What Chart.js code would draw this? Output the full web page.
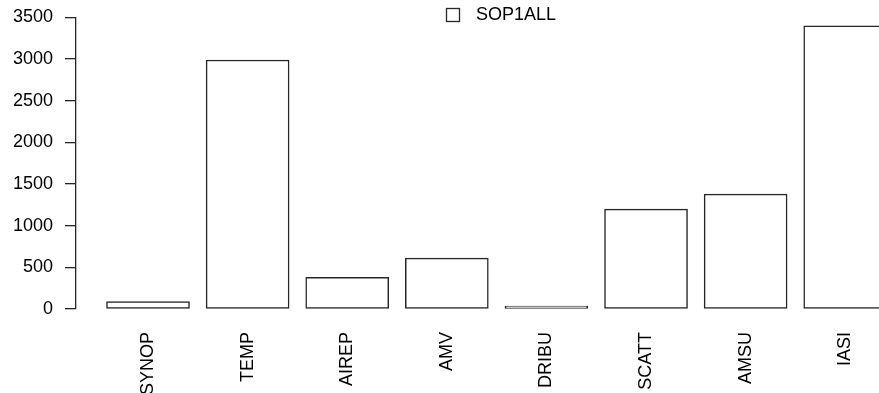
<!DOCTYPE html>
<html>
<head>
<meta charset="utf-8">
<script src="https://cdn.jsdelivr.net/npm/chart.js@4/dist/chart.umd.min.js"></script>
<style>
  html, body { margin: 0; padding: 0; background: #fff; overflow: hidden; }
  canvas { display: block; }
</style>
</head>
<body>
<canvas id="c" width="879" height="393"></canvas>
<script>
// Observation types and their counts for the SOP1ALL experiment
const categories = ['SYNOP', 'TEMP', 'AIREP', 'AMV', 'DRIBU', 'SCATT', 'AMSU', 'IASI'];
const sop1all = [90, 2990, 380, 610, 8, 1200, 1380, 3400];
const seriesName = 'SOP1ALL';
const yTicks = [0, 500, 1000, 1500, 2000, 2500, 3000, 3500];

const FONT = { family: "'Liberation Sans', Arial, Helvetica, sans-serif", size: 18 };
const INK = '#000000';
const LINE = '#262626';

// Small legend: an open square followed by the series name
const boxLegend = {
  id: 'boxLegend',
  afterDraw(chart) {
    const ds = chart.data.datasets[0];
    const ctx = chart.ctx;
    ctx.save();
    ctx.lineWidth = 1.3;
    ctx.strokeStyle = ds.borderColor;
    ctx.fillStyle = ds.backgroundColor;
    ctx.fillRect(446.5, 8.5, 13, 13);
    ctx.strokeRect(446.5, 8.5, 13, 13);
    ctx.fillStyle = INK;
    ctx.font = `${FONT.size}px ${FONT.family}`;
    ctx.textAlign = 'left';
    ctx.textBaseline = 'middle';
    ctx.fillText(ds.label, 476, 15.5);
    ctx.restore();
  }
};

new Chart(document.getElementById('c'), {
  type: 'bar',
  data: {
    datasets: [{
      label: seriesName,
      data: sop1all.map((v, i) => ({ x: i, y: v })),
      backgroundColor: '#ffffff',
      borderColor: LINE,
      borderWidth: 1.5,
      borderSkipped: false,
      barThickness: 83,
      minBarLength: 3
    }]
  },
  options: {
    responsive: false,
    animation: false,
    devicePixelRatio: 1,
    layout: { padding: { top: 17.5, left: 0, right: 0, bottom: 0 } },
    plugins: {
      legend: { display: false },
      tooltip: { enabled: false }
    },
    scales: {
      x: {
        type: 'linear',
        position: 'bottom',
        offset: false,
        min: -0.723,
        max: 7.339,
        grid: { display: false, drawTicks: false, offset: false },
        border: { display: false },
        afterFit(scale) {
          scale.height = 84;
          scale.paddingLeft = 0;
          scale.paddingRight = 0;
        },
        afterBuildTicks(scale) { scale.ticks = categories.map((_, i) => ({ value: i })); },
        ticks: {
          autoSkip: false,
          minRotation: 90,
          maxRotation: 90,
          padding: 23,
          color: INK,
          font: FONT,
          callback: (v) => categories[v] ?? ''
        }
      },
      y: {
        min: 0,
        max: 3500,
        afterFit(scale) {
          scale.width = 76;
          scale.paddingTop = 0;
          scale.paddingBottom = 0;
        },
        afterBuildTicks(scale) { scale.ticks = yTicks.map(v => ({ value: v })); },
        grid: { drawOnChartArea: false, drawTicks: true, tickLength: 11, color: LINE, lineWidth: 1.3 },
        border: { display: true, color: LINE, width: 1.3 },
        ticks: { padding: 12, color: INK, font: FONT, callback: (v) => String(v) }
      }
    }
  },
  plugins: [boxLegend]
});
</script>
</body>
</html>
